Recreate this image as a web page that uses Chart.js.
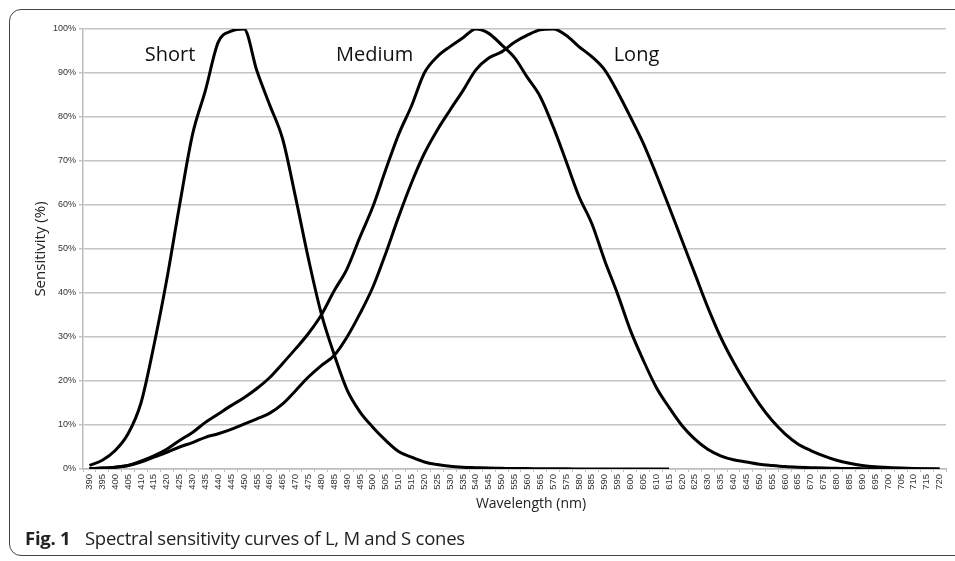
<!DOCTYPE html>
<html lang="en">
<head>
    <meta charset="UTF-8">
    <title>Spectral sensitivity curves</title>
    <style>
body {
    margin: 0;
    width: 955px;
    height: 561px;
    overflow: hidden;
    background: #fff;
    position: relative;
    font-family: "Open Sans", sans-serif;
}

.frame {
    position: absolute;
    left: 9px;
    top: 9px;
    width: 970px;
    height: 545px;
    border: 1.3px solid #444;
    border-radius: 12px;
}

#wrap {
    position: absolute;
    left: 0;
    top: 0;
    width: 955px;
    height: 561px;
}

.xtitle {
    position: absolute;
    left: 531px;
    top: 493px;
    transform: translateX(-50%);
    font-size: 14px;
    color: #222;
    white-space: nowrap;
}

.caption {
    position: absolute;
    left: 25px;
    top: 526px;
    font-size: 18.5px;
    line-height: 24px;
    color: #222;
    white-space: nowrap;
    letter-spacing: -0.25px;
}

.caption b {
    margin-right: 10px;
}
    </style>
    <script src="https://cdn.jsdelivr.net/npm/chart.js@4"></script>
</head>
<body>
    <div class="frame"></div>
    <div id="wrap"><canvas id="cones"></canvas></div>
    <div class="xtitle">Wavelength (nm)</div>
    <div class="caption"><b>Fig. 1</b> Spectral sensitivity curves of L, M and S cones</div>

    <script>
        const wavelengths = [];
        for (let w = 390; w <= 720; w += 5) wavelengths.push(String(w));

        // values, % of peak, 390..720 nm every 5 nm
        const shortCone = [
            0.8, 2, 4.2, 8, 15, 28, 43, 60, 76, 86,
            97, 99.5, 100, 90.5, 82.7, 75, 61.8, 47.8, 35.3, 26,
            18, 13, 9.5, 6.5, 4, 2.7, 1.6, 1, 0.6, 0.4,
            0.3, 0.2, 0.15, 0.1, 0.1, 0.05, 0.05, 0.03, 0.02, 0.02,
            0.01, 0.01, 0.01, 0, 0, 0
        ];
        const mediumCone = [
            0.1, 0.2, 0.4, 0.8, 1.8, 3, 4.5, 6.5, 8.3, 10.6,
            12.5, 14.4, 16.2, 18.3, 20.8, 24, 27.3, 30.8, 35, 40.5,
            45.5, 52.7, 59.6, 68, 76, 82.5, 90, 93.7, 96, 98,
            100, 99, 96.4, 93.5, 89, 84.6, 77.8, 70, 62, 55.8,
            47.4, 39.8, 31.5, 24.7, 18.6, 14, 9.9, 6.8, 4.5, 3,
            2.1, 1.6, 1.1, 0.8, 0.55, 0.4, 0.3, 0.2, 0.15, 0.1,
            0.08, 0.05, 0.04, 0.03, 0.02, 0.01, 0
        ];
        const longCone = [
            0.1, 0.2, 0.4, 0.8, 1.6, 2.7, 3.8, 5, 6, 7.2,
            8, 9, 10.2, 11.4, 12.7, 14.8, 17.8, 20.9, 23.5, 25.8,
            30, 35.3, 41.3, 49, 57.3, 65, 71.7, 77, 81.6, 86,
            90.7, 93.4, 94.8, 97, 98.6, 99.8, 100, 98.6, 96, 93.7,
            90.7, 85.7, 80, 74, 67, 59.6, 52, 44.4, 36.8, 30,
            24.3, 19.3, 14.8, 11, 8, 5.7, 4.2, 3, 2, 1.3,
            0.8, 0.5, 0.35, 0.2, 0.1, 0.05, 0
        ];
        const yTicks = [0, 10, 20, 30, 40, 50, 60, 70, 80, 90, 100];

        // curve names: text, category index, value (%)
        const curveNames = [
            { text: 'Short', at: 4.3, pct: 94 },
            { text: 'Medium', at: 19.15, pct: 94 },
            { text: 'Long', at: 40.7, pct: 94 }
        ];

        function line(label, data) {
            return {
                label: label,
                data: data,
                borderColor: '#000',
                borderWidth: 3,
                pointRadius: 0,
                fill: false,
                cubicInterpolationMode: 'monotone'
            };
        }

        const namePlugin = {
            id: 'curveNames',
            afterDatasetsDraw(chart) {
                const ctx = chart.ctx;
                const x = chart.scales.x, y = chart.scales.y;
                ctx.save();
                ctx.font = '20px "Open Sans"';
                ctx.fillStyle = '#111';
                ctx.textAlign = 'left';
                ctx.textBaseline = 'middle';
                curveNames.forEach(n => {
                    ctx.fillText(n.text, x.getPixelForValue(n.at), y.getPixelForValue(n.pct));
                });
                ctx.restore();
            }
        };

        const tickFont = { family: 'Liberation Sans', size: 9.5 };

        new Chart(document.getElementById('cones'), {
            type: 'line',
            data: {
                labels: wavelengths,
                datasets: [
                    line('Short', shortCone),
                    line('Medium', mediumCone),
                    line('Long', longCone)
                ]
            },
            options: {
                responsive: true,
                maintainAspectRatio: false,
                animation: false,
                layout: { padding: { left: 0, top: 29, right: 9, bottom: 0 } },
                plugins: {
                    legend: { display: false },
                    tooltip: { enabled: false }
                },
                scales: {
                    x: {
                        offset: true,
                        afterFit(s) { s.height = 92; },
                        grid: {
                            offset: true,
                            drawOnChartArea: false,
                            drawTicks: true,
                            tickLength: 3,
                            color: '#bdbdbd',
                            lineWidth: 1
                        },
                        border: { color: '#bdbdbd', width: 1.5 },
                        ticks: {
                            autoSkip: false,
                            minRotation: 90,
                            maxRotation: 90,
                            padding: 2,
                            font: tickFont,
                            color: '#333'
                        }
                    },
                    y: {
                        min: 0,
                        max: 100,
                        afterFit(s) { s.width = 83; },
                        afterBuildTicks(s) { s.ticks = yTicks.map(v => ({ value: v })); },
                        grid: {
                            color: '#c4c4c4',
                            lineWidth: 1.5,
                            tickLength: 4
                        },
                        border: { color: '#bdbdbd', width: 1.5 },
                        ticks: {
                            padding: 3,
                            font: { family: 'Liberation Sans', size: 9 },
                            color: '#333',
                            callback: v => v + '%'
                        },
                        title: {
                            display: true,
                            text: 'Sensitivity (%)',
                            font: { family: 'Open Sans', size: 15 },
                            color: '#222',
                            padding: { top: 32, bottom: 0 }
                        }
                    }
                }
            },
            plugins: [namePlugin]
        });
    </script>
</body>
</html>
